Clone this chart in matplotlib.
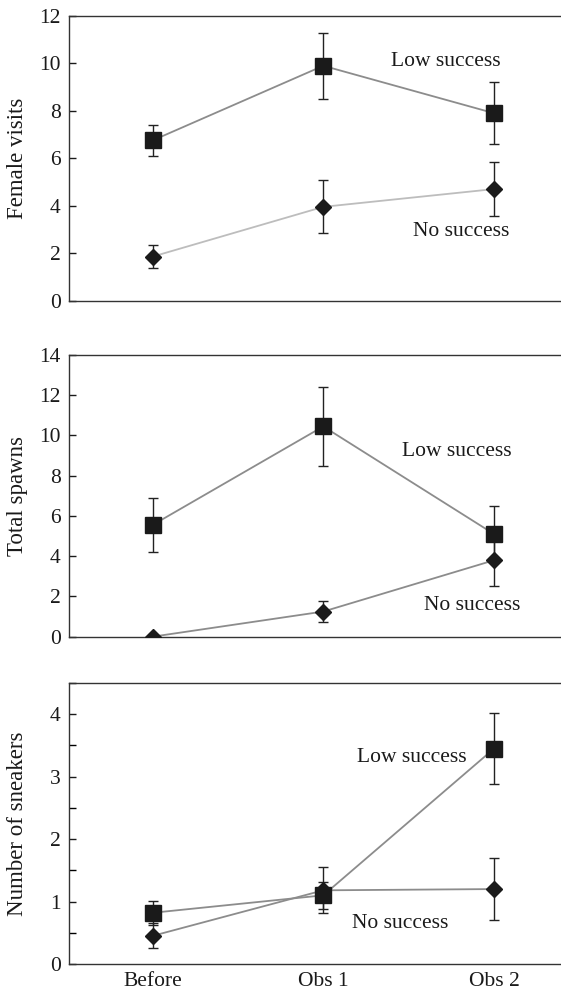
# Three stacked panels: female visits, spawns, sneakers by nest success group

import matplotlib
matplotlib.use("Agg")
import matplotlib.pyplot as plt
from matplotlib.ticker import MultipleLocator

plt.rcParams["font.family"] = ["Liberation Serif", "DejaVu Serif"]

periods = ["Before", "Obs 1", "Obs 2"]

# Female visits
visits_low = [6.75, 9.9, 7.9]
visits_low_err = [0.65, 1.4, 1.3]
visits_no = [1.85, 3.95, 4.7]
visits_no_err = [0.48, 1.12, 1.15]

# Total spawns
spawns_low = [5.55, 10.45, 5.1]
spawns_low_err = [1.35, 1.98, 1.4]
spawns_no = [0.0, 1.25, 3.8]
spawns_no_err = [0.0, 0.52, 1.3]

# Number of sneakers
sneak_low = [0.82, 1.1, 3.45]
sneak_low_err = [0.19, 0.22, 0.57]
sneak_no = [0.45, 1.18, 1.2]
sneak_no_err = [0.2, 0.37, 0.49]

panels = [
    ("Female visits", visits_low, visits_low_err, visits_no, visits_no_err,
     (0, 12), 2, None, (446, 62), (461, 232), "#bdbdbd"),
    ("Total spawns", spawns_low, spawns_low_err, spawns_no, spawns_no_err,
     (0, 14), 2, None, (457, 452), (472, 605), "#8c8c8c"),
    ("Number of sneakers", sneak_low, sneak_low_err, sneak_no, sneak_no_err,
     (0, 4.5), 1, 0.5, (412, 758), (400, 924), "#8c8c8c"),
]

# panel boxes in pixels (top, bottom)
boxes = [(16, 300.5), (355, 636.7), (683, 964)]

W, H = 561, 992
fig = plt.figure(figsize=(W / 100, H / 100), dpi=100)

x = list(range(len(periods)))

for i, (ylab, low, low_e, no, no_e, ylim, major, minor, lowpos, nopos, nocol) in enumerate(panels):
    top, bot = boxes[i]
    ax = fig.add_axes([69 / W, 1 - bot / H, 1 - 69 / W, (bot - top) / H])

    ax.plot(x, no, color=nocol, lw=1.3, zorder=1)
    ax.plot(x, low, color="#8c8c8c", lw=1.3, zorder=1)
    ax.errorbar(x, no, yerr=no_e, fmt="none", ecolor="#222222", elinewidth=1,
                capsize=3.5, capthick=1, zorder=2)
    ax.errorbar(x, low, yerr=low_e, fmt="none", ecolor="#222222", elinewidth=1,
                capsize=3.5, capthick=1, zorder=2)
    ax.plot(x, no, "D", color="#1a1a1a", markersize=8.5, zorder=3)
    ax.plot(x, low, "s", color="#1a1a1a", markersize=12, zorder=3)

    ax.text(lowpos[0], H - lowpos[1], "Low success", transform=None,
            ha="center", va="center", fontsize=15.5, color="#1a1a1a")
    ax.text(nopos[0], H - nopos[1], "No success", transform=None,
            ha="center", va="center", fontsize=15.5, color="#1a1a1a")

    ax.set_xlim(-0.489, 2.392)
    ax.set_ylim(*ylim)
    ax.yaxis.set_major_locator(MultipleLocator(major))
    if minor:
        ax.yaxis.set_minor_locator(MultipleLocator(minor))
    ax.tick_params(axis="y", direction="in", length=5, width=1, labelsize=15.5,
                   colors="#1a1a1a", pad=6)
    ax.tick_params(axis="y", which="minor", direction="in", length=5, width=1)
    ax.set_xticks(x)
    if i == 2:
        ax.set_xticklabels(periods, fontsize=15.5)
    else:
        ax.set_xticklabels([])
    ax.tick_params(axis="x", length=0, pad=6, colors="#1a1a1a")

    ax.set_ylabel(ylab, fontsize=16.5, color="#1a1a1a")
    ax.yaxis.set_label_coords((28 - 69) / (W - 69), 0.5)

    ax.spines["right"].set_visible(False)
    for s in ["left", "bottom", "top"]:
        ax.spines[s].set_color("#333333")
        ax.spines[s].set_linewidth(1)

plt.savefig("out.png", dpi=100)
